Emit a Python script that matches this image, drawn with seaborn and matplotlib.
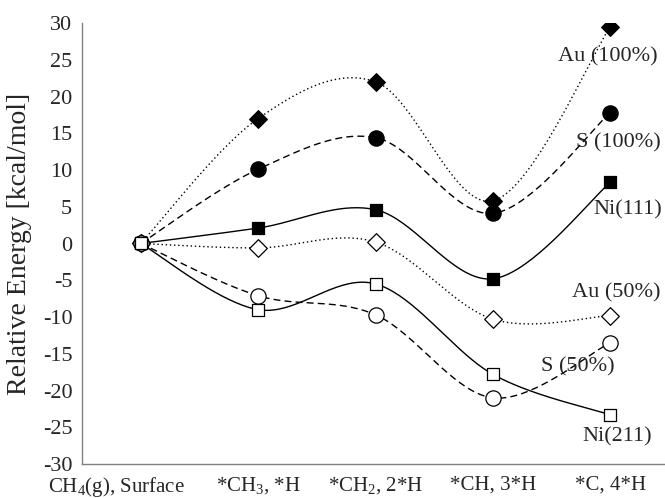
import numpy as np
import pandas as pd
import matplotlib
matplotlib.use("Agg")
import matplotlib.pyplot as plt
import matplotlib.transforms as mtransforms
import seaborn as sns

# categories along the reaction coordinate
steps = ["CH$_4$(g), Surface", "*CH$_3$, *H", "*CH$_2$, 2*H", "*CH, 3*H", "*C, 4*H"]

# relative energies [kcal/mol]
au_100 = [0.0, 17.0, 22.0, 5.8, 29.5]
s_100 = [0.0, 10.1, 14.4, 4.1, 17.8]
ni_111 = [0.0, 2.1, 4.6, -4.8, 8.3]
au_50 = [0.0, -0.6, 0.2, -10.3, -9.8]
s_50 = [0.0, -7.1, -9.7, -21.0, -13.5]
ni_211 = [0.0, -9.0, -5.5, -17.8, -23.3]

series_names = ["Au (100%)", "S (100%)", "Ni(111)", "Au (50%)", "S (50%)", "Ni(211)"]
series_vals = [au_100, s_100, ni_111, au_50, s_50, ni_211]

# label anchors (data coords) next to the last points
label_x = [3.98, 4.07, 4.15, 4.05, 3.72, 4.06]
label_y = [25.4, 13.7, 4.6, -6.7, -16.8, -26.3]

styles = {
    "Au (100%)": dict(ls=(0, (1, 2)), marker="D", ms=9, filled=True),
    "S (100%)": dict(ls=(0, (5, 3)), marker="o", ms=11, filled=True),
    "Ni(111)": dict(ls="-", marker="s", ms=8.5, filled=True),
    "Au (50%)": dict(ls=(0, (1, 2)), marker="D", ms=9, filled=False),
    "S (50%)": dict(ls=(0, (5, 3)), marker="o", ms=11, filled=False),
    "Ni(211)": dict(ls="-", marker="s", ms=8.5, filled=False),
}


def smooth(y, n=40):
    # Excel-like smoothed line: Catmull-Rom style cubic Bezier through the points
    x = np.arange(len(y), dtype=float)
    p = np.column_stack([x, np.asarray(y, dtype=float)])
    out = [p[0]]
    t = np.linspace(0, 1, n)[1:, None]
    for i in range(len(p) - 1):
        p0 = p[i - 1] if i > 0 else p[i]
        p3 = p[i + 2] if i + 2 < len(p) else p[i + 1]
        c1 = p[i] + (p[i + 1] - p0) / 6
        c2 = p[i + 1] - (p3 - p[i]) / 6
        seg = ((1 - t) ** 3) * p[i] + 3 * ((1 - t) ** 2) * t * c1 + 3 * (1 - t) * t ** 2 * c2 + t ** 3 * p[i + 1]
        out.extend(seg)
    out = np.array(out)
    return out[:, 0], out[:, 1]


sns.set_style("white")
plt.rcParams["font.family"] = ["Liberation Serif", "DejaVu Serif"]
plt.rcParams["mathtext.fontset"] = "custom"
plt.rcParams["mathtext.rm"] = "Liberation Serif"
plt.rcParams["mathtext.it"] = "Liberation Serif:italic"

FS = 16

fig = plt.figure(figsize=(6.65, 4.98), dpi=100)
ax = fig.add_axes([82 / 665, 34 / 498, 587 / 665, 441 / 498])

for name, vals in zip(series_names, series_vals):
    st = styles[name]
    xs, ys = smooth(vals)
    sns.lineplot(x=xs, y=ys, ax=ax, color="black", lw=1.0, linestyle=st["ls"],
                 sort=False, estimator=None, zorder=2)
    pts = pd.DataFrame({"step": np.arange(len(vals)), "energy": vals})
    sns.scatterplot(data=pts, x="step", y="energy", ax=ax, marker=st["marker"],
                    s=st["ms"] ** 2, color="black" if st["filled"] else "white",
                    edgecolor="black", linewidth=0.9, zorder=3)

for name, lx, ly in zip(series_names, label_x, label_y):
    ax.text(lx, ly, name, ha="center", va="center", fontsize=FS)

ax.set_xlim(-0.5, 4.5)
ax.set_ylim(-30, 30)
ax.set_yticks(np.arange(-30, 31, 5))
ax.set_yticklabels([str(v) for v in range(-30, 31, 5)], fontsize=FS)
ax.set_xticks([0.5, 1.5, 2.5, 3.5])
ax.set_xticklabels([])
ax.set_xticks(range(len(steps)), minor=True)
ax.set_xticklabels(steps, minor=True, fontsize=15)
ax.tick_params(axis="x", which="major", direction="in", length=4, color="#808080")
ax.tick_params(axis="x", which="minor", length=0, pad=8)
ax.tick_params(axis="y", direction="out", length=4, color="#808080", pad=3)

# the wide first label sits left of its category in the reference
first = ax.get_xticklabels(minor=True)[0]
first.set_transform(first.get_transform() + mtransforms.ScaledTranslation(-0.24, 0, fig.dpi_scale_trans))

ax.set_xlabel("")
ax.set_ylabel("Relative Energy [kcal/mol]", fontsize=20)
ax.yaxis.set_label_coords(-50 / 587, 0.5)

for side in ["top", "right"]:
    ax.spines[side].set_visible(False)
for side in ["left", "bottom"]:
    ax.spines[side].set_color("#808080")
    ax.spines[side].set_linewidth(1.0)

fig.savefig("out.png", dpi=100)
